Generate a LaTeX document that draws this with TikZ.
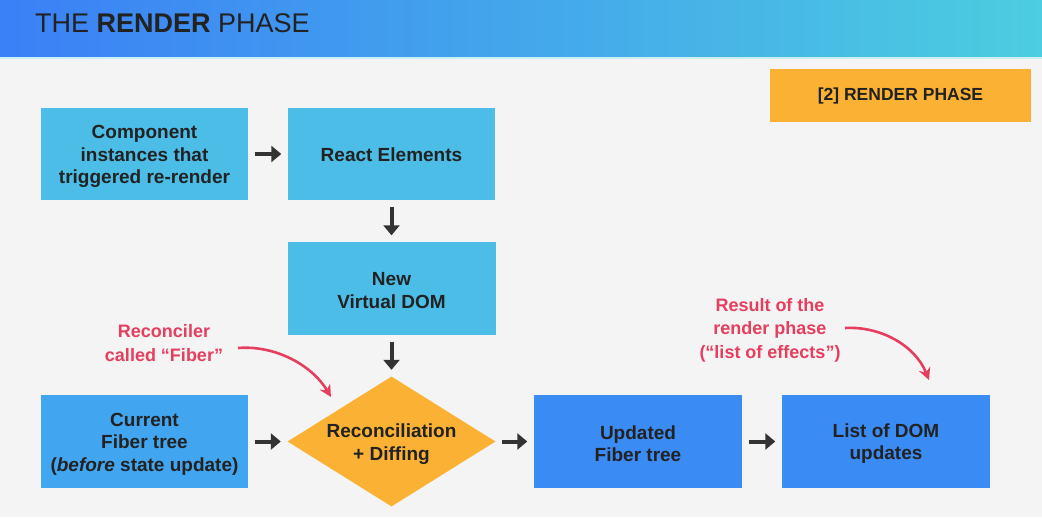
\documentclass[tikz,border=0pt]{standalone}
\usepackage{fontspec}
\setmainfont{Liberation Sans}
\usetikzlibrary{shapes.geometric,arrows.meta}
\definecolor{bgc}{HTML}{F4F4F4}
\definecolor{hdl}{HTML}{3B80F6}
\definecolor{hdr}{HTML}{4CCDE0}
\definecolor{lblue}{HTML}{4BBDE6}
\definecolor{mblue}{HTML}{42A5F0}
\definecolor{dblue}{HTML}{3B8BF5}
\definecolor{orng}{HTML}{FBB234}
\definecolor{txt}{HTML}{222222}
\definecolor{arr}{HTML}{333333}
\definecolor{rred}{HTML}{E53E5E}
\begin{document}
\begin{tikzpicture}[x=1pt,y=-1pt,
  box/.style={rectangle,inner sep=0pt},
  boxtext/.style={inner sep=0pt,align=center,text=txt,
    font=\fontsize{19}{22.5}\selectfont\bfseries},
  flowarrow/.style={draw=arr,line width=4pt,
    -{Triangle[length=10pt,width=16pt]},shorten >=6.5pt,shorten <=6.5pt},
  redtext/.style={align=center,text=rred,font=\fontsize{18}{23.5}\selectfont\bfseries},
  redarrow/.style={draw=rred,line width=2.6pt,-{Stealth[length=12pt,width=12pt]}}]
\useasboundingbox (0,0) rectangle (1042,517);
\fill[bgc] (0,0) rectangle (1042,517);
\shade[left color=hdl,right color=hdr] (0,0) rectangle (1042,57);
\fill[hdr!30!white] (0,57) rectangle (1042,59);
\node[anchor=base west,inner sep=0pt,text=txt,font=\fontsize{27}{30}\selectfont] (title) at (35,32)
  {THE \textbf{RENDER} PHASE};
% phase label
\node[rectangle,inner sep=0pt,text=txt,fill=orng,minimum width=261pt,minimum height=53pt,font=\fontsize{17.5}{21}\selectfont\bfseries] (phase) at (900.5,95.5) {[2] RENDER PHASE};
% boxes
\node[box,fill=lblue,minimum width=207pt,minimum height=92pt] (comp) at (144.5,154) {};
\node[box,fill=lblue,minimum width=207pt,minimum height=92pt] (react) at (391.5,154) {};
\node[box,fill=lblue,minimum width=208pt,minimum height=93pt] (vdom) at (391.5,288.5) {};
\node[box,fill=mblue,minimum width=207pt,minimum height=93pt] (cur) at (144.5,441.5) {};
\node[diamond,fill=orng,aspect=1.6,inner sep=0pt,minimum width=208pt,minimum height=130pt] (rec) at (391.5,441.5) {};
\node[box,fill=dblue,minimum width=208pt,minimum height=93pt] (upd) at (638,441.5) {};
\node[box,fill=dblue,minimum width=208pt,minimum height=93pt] (list) at (886,441.5) {};
% texts
\node[boxtext] (compt) at ([yshift=-2.5pt]comp.center) {Component\\instances that\\triggered re-render};
\node[boxtext] (reactt) at ([yshift=-1pt]react.center) {React Elements};
\node[boxtext] (vdomt) at ([yshift=-2pt]vdom.center) {New\\Virtual DOM};
\node[boxtext] (curt) at ([yshift=-2.5pt]cur.center) {Current\\Fiber tree\\(\textit{before} state update)};
\node[boxtext] (rect) at ([yshift=-2.5pt]rec.center) {Reconciliation\\+ Diffing};
\node[boxtext] (updt) at ([yshift=-2pt]upd.center) {Updated\\Fiber tree};
\node[boxtext] (listt) at ([yshift=-2pt]list.center) {List of DOM\\updates};
% flow arrows
\draw[flowarrow] (comp.east) -- (react.west);
\draw[flowarrow] (react.south) -- (vdom.north);
\draw[flowarrow] (vdom.south) -- (rec.north);
\draw[flowarrow] (cur.east) -- (rec.west);
\draw[flowarrow] (rec.east) -- (upd.west);
\draw[flowarrow] (upd.east) -- (list.west);
% red notes
\node[redtext] (fibernote) at (164,343) {Reconciler\\called “Fiber”};
\node[redtext] (resnote) at (770,330) {Result of the\\render phase\\(“list of effects”)};
\coordinate (f0) at (238,348);
\coordinate (f1) at (331,397);
\coordinate (r0) at (845,328);
\coordinate (r1) at (929,380);
\draw[redarrow] (f0) .. controls (275,345) and (312,365) .. (f1);
\draw[redarrow] (r0) .. controls (880,326) and (915,345) .. (r1);
\end{tikzpicture}
\end{document}
